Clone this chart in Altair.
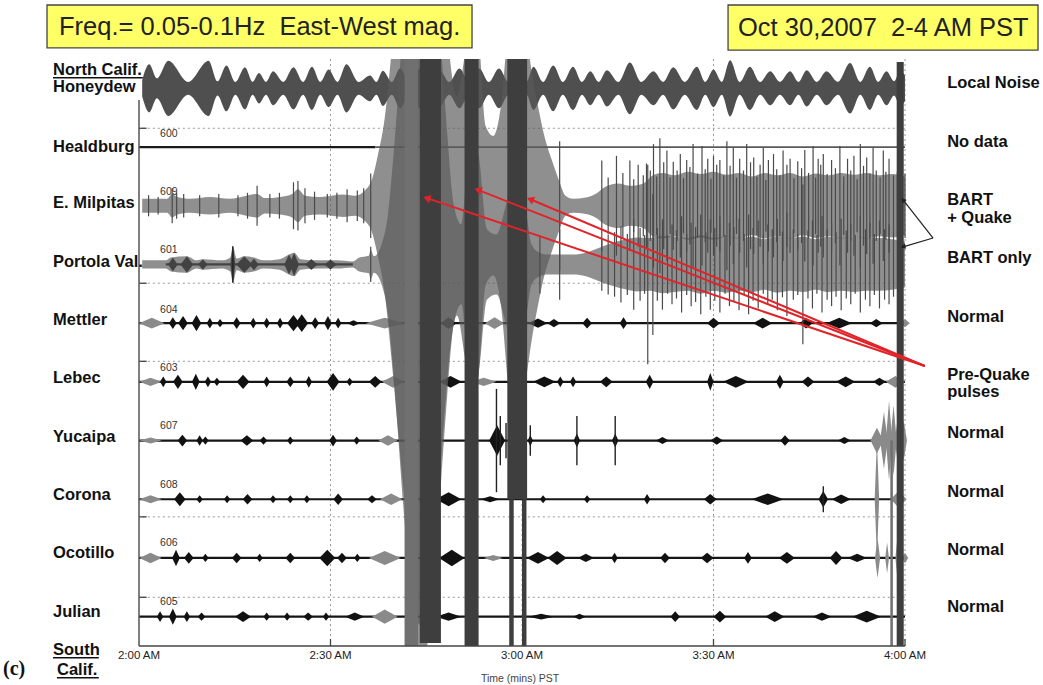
import altair as alt
import pandas as pd

# ------------------------------------------------------------------ data
TIME_TICKS = [0, 30, 60, 90, 120]                       # minutes after 2:00 AM
TIME_LABELS = ["2:00 AM", "2:30 AM", "3:00 AM", "3:30 AM", "4:00 AM"]

STATIONS = ["Honeydew", "Healdburg", "E. Milpitas", "Portola Val.", "Mettler",
            "Lebec", "Yucaipa", "Corona", "Ocotillo", "Julian"]
OFFSETS = [0, 100, 200, 300, 400, 500, 600, 700, 800, 900]   # trace baselines
LABEL_Y = [6, 108, 204, 304, 403, 502, 602, 701, 800, 901]
STATION_CODES = ["600", "609", "601", "604", "603", "607", "608", "606", "605"]
CODE_Y = [83, 182, 281, 383, 481, 581, 680, 780, 880]

STATUS_TEXT = ["Local Noise", "No data", "BART", "+ Quake", "BART only", "Normal",
               "Pre-Quake", "pulses", "Normal", "Normal", "Normal", "Normal"]
STATUS_Y = [-1, 100, 199, 229, 298, 398, 497, 526, 596, 696, 795, 892]

# Honeydew envelope (minutes, half-amplitude)
HD_T = [0.5, 1.6, 2.8, 4.6, 7.7, 10.9, 12.3, 13.7, 15.1, 16.6, 17.8, 18.8, 19.9, 21.0,
        22.6, 24.2, 25.7, 27.1, 28.4, 29.7, 31.1, 32.5, 34.4, 36.2, 37.2, 38.2, 39.6,
        40.9, 42.4, 44.0, 45.6, 47.1, 48.6, 50.2, 51.7, 53.3, 54.8, 56.4, 57.9, 59.5,
        60.7, 61.8, 63.3, 64.9, 66.4, 68.0, 69.4, 70.7, 72.0, 73.3, 75.1, 76.9, 78.7,
        80.6, 82.1, 83.7, 85.5, 87.4, 88.7, 90.0, 91.3, 92.6, 94.1, 95.7, 97.3, 98.9,
        100.4, 102.0, 103.3, 104.6, 106.2, 107.7, 109.5, 111.4, 113.0, 114.5, 115.8,
        117.1, 118.3, 119.2, 120.0]
HD_A = [14, 41, 17, 47, 11, 47, 12, 39, 11, 36, 11, 26, 11, 29, 11, 36, 11, 37, 11, 32,
        11, 41, 11, 22, 11, 30, 11, 34, 11, 34, 11, 31, 11, 34, 11, 34, 11, 34, 11, 32,
        11, 37, 11, 39, 11, 37, 11, 29, 11, 31, 11, 44, 11, 29, 11, 36, 11, 37, 11, 32,
        11, 48, 11, 37, 11, 29, 11, 29, 11, 31, 11, 29, 11, 43, 11, 37, 11, 29, 12, 30, 22]

# E. Milpitas envelope
MIL_T = [0.5, 4.4, 5.2, 6.0, 8.0, 11.1, 14.3, 18.5, 19.7, 22.1, 24.0, 24.9, 26.0, 28.4,
         32.0, 33.8, 35.4, 36.5, 37.4, 38.5, 39.5, 40.5, 41.7, 44.0, 46.0, 47.5, 48.5,
         49.8, 51.0, 52.0, 53.2, 54.3, 55.5, 56.7, 58.0, 59.3, 60.5, 61.5, 62.5, 63.5,
         64.7, 65.8, 66.8, 68.0, 70.0, 71.5, 73.0, 75.0, 77.0, 79.0, 80.5, 82.0, 84.0,
         86.0, 88.0, 90.0, 92.0, 94.0, 96.0, 98.0, 100.0, 102.0, 104.0, 106.0, 108.0,
         110.0, 112.0, 114.0, 116.0, 118.0, 120.0]
MIL_A = [12, 12, 20, 15, 12, 15, 12, 20, 13, 15, 20, 28, 17, 15, 19, 17, 26, 45, 85, 150,
         255, 374, 510, 714, 612, 408, 272, 187, 255, 340, 289, 136, 119, 170, 323, 374,
         306, 230, 170, 119, 77, 43, 17, 12, 14, 20, 32, 38, 34, 38,
         52, 56, 52, 58, 54, 58, 53, 56, 50, 56, 52, 56, 50, 55, 52, 56, 53, 56, 52, 54, 50]

# Portola Valley envelope
POR_T = [0.5, 4.2, 5.0, 7.5, 9.0, 10.0, 13.0, 14.3, 14.7, 15.3, 16.5, 18.0, 19.5, 22.0,
         23.5, 24.3, 25.3, 28.0, 31.0, 33.5, 34.5, 36.0, 36.3, 36.8, 38.0, 39.0, 40.0,
         41.5, 43.0, 44.5, 46.0, 47.3, 48.3, 49.3, 50.5, 52.0, 53.2, 54.5, 56.0, 57.5,
         59.0, 60.5, 61.5, 62.8, 64.0, 66.0, 68.0, 70.0, 72.0, 74.0, 76.0, 78.0, 80.0,
         82.0, 84.0, 86.0, 88.0, 90.0, 92.0, 94.0, 96.0, 98.0, 100.0, 102.0, 104.0,
         106.0, 108.0, 110.0, 112.0, 114.0, 116.0, 118.0, 120.0]
POR_A = [7, 7, 12, 14, 7, 9, 7, 12, 31, 10, 14, 12, 7, 9, 17, 20, 9, 7, 7, 5, 12, 15, 25,
         14, 34, 85, 204, 425, 595, 680, 561, 374, 221, 102, 68, 221, 187, 60, 51, 102,
         170, 102, 34, 20, 17, 17, 17, 20, 28, 36, 42, 46,
         45, 49, 47, 45, 50, 45, 48, 45, 47, 43, 48, 45, 47, 43, 47, 45, 47, 45, 45, 43, 39]

# vertical spikes (minute, half-amplitude)
MIL_SPK_T = [1.5, 3.0, 5.2, 5.9, 7.0, 9.5, 12.5, 15.5, 17.0, 18.5, 20.5, 22.0, 24.2, 24.9,
             26.0, 27.5, 29.5, 31.0, 32.6, 34.2, 35.2, 36.3,
             65.9, 72.5, 73.5, 74.8, 75.8, 76.9, 77.5, 78.2, 79.0, 79.5, 80.1, 80.6, 81.1,
             81.6, 82.2, 82.7, 83.2, 83.7, 84.3, 84.8, 85.3, 85.8, 86.3, 86.8, 87.5, 88.2,
             88.7, 89.1, 89.6, 90.0, 90.5, 91.0, 91.6, 92.1, 92.6, 93.1, 93.6, 94.1, 94.7,
             95.2, 95.8, 96.3, 96.8, 97.3, 97.8, 98.2, 98.6, 99.4, 99.9, 100.4, 100.9,
             101.5, 102.0, 102.6, 103.2, 103.8, 104.3, 104.9, 105.6, 106.0, 106.4, 106.8,
             107.2, 107.8, 108.5, 109.1, 109.8, 110.4, 111.0, 111.5, 112.0, 112.5, 113.0,
             113.5, 114.0, 114.5, 115.0, 115.5, 116.1, 116.6, 117.0, 117.5, 118.2, 118.8,
             119.5, 120.0]
MIL_SPK_A = [18, 15, 30, 22, 20, 18, 20, 18, 22, 34, 20, 22, 40, 42, 30, 24, 20, 22, 28,
             26, 30, 55,
             110, 77, 48, 85, 56, 77, 45, 70, 52, 72,
             60, 105, 50, 115, 74, 94, 48, 75, 60, 88,
             47, 78, 66, 105, 55, 102, 62, 80, 46, 85,
             70, 78, 52, 110, 68, 99, 48, 80, 60, 105,
             74, 82, 50, 70, 99, 44, 78, 88, 62, 52,
             94, 70, 80, 47, 76, 64, 95, 56, 102, 48,
             80, 70, 88, 54, 78, 64, 102, 50, 80, 60,
             85, 45, 105, 68, 82, 55, 99, 60, 48, 94,
             58, 80, 52, 58, 70, 55]
POR_SPK_T = [36.3, 62.8, 65.9, 72.5, 73.5, 74.5, 75.5, 76.5, 77.5, 78.5, 79.2, 79.7, 80.5,
             81.2, 82.0, 82.8, 83.5, 84.2, 85.0, 85.8, 86.5, 87.2, 88.0, 88.8, 89.5, 90.2,
             91.0, 91.8, 92.5, 93.2, 94.0, 94.8, 95.5, 96.2, 97.0, 97.8, 98.5, 99.2, 100.0,
             100.8, 101.5, 102.5, 103.2, 104.0, 104.8, 105.5, 106.2, 107.0, 107.8, 108.5,
             109.2, 110.0, 110.8, 111.5, 112.2, 113.0, 113.8, 114.5, 115.2, 116.0, 116.8,
             117.5, 118.2, 119.2]
POR_SPK_A = [30, 50, 60, 45, 51, 55, 65, 52, 77, 62, 50, 170, 120, 62, 77, 50, 68, 58, 82,
             52, 71, 64, 85, 55, 77, 62, 82, 50, 71, 64, 78, 52, 85, 62, 75, 50, 68, 60,
             78, 56, 88, 60, 52, 136, 58, 75, 50, 82, 60, 71, 55, 78, 58, 68, 50, 82, 60,
             71, 52, 75, 60, 68, 55, 52]

# bursts on the quiet stations: (minute, half-amplitude, duration in minutes)
POR_BLK = [(5.3, 12, 1.5), (7.5, 14, 2.0), (10.0, 9, 1.5), (14.7, 31, 0.8), (16.5, 14, 2.5),
           (18.0, 10, 1.5), (23.5, 17, 1.5), (24.3, 20, 1.5), (27.0, 9, 2.0), (30.0, 8, 2.0)]
MET_BLK = [(5.3, 10, 1.2), (6.9, 12, 1.5), (9.0, 14, 1.5), (11.1, 9, 1.0), (12.7, 7, 1.0),
           (15.3, 10, 1.2), (17.9, 9, 1.0), (20.0, 9, 1.0), (22.1, 9, 1.0), (24.2, 14, 2.0),
           (25.5, 15, 2.0), (27.6, 10, 1.2), (29.6, 12, 1.2), (31.2, 9, 1.0), (33.6, 5, 2.0),
           (48.5, 10, 2.5), (62.5, 8, 3.0), (65.0, 7, 2.0), (70.2, 9, 1.5), (75.9, 10, 1.2),
           (90.0, 9, 2.0), (97.7, 9, 3.0), (104.5, 9, 2.0), (109.7, 9, 4.0), (115.5, 7, 2.0)]
MET_GRY = [(2.0, 9, 4.0), (38.5, 9, 6.0), (55.7, 10, 3.0), (120.0, 7, 1.5)]
LEB_BLK = [(3.8, 9, 1.0), (6.1, 12, 1.5), (8.9, 14, 1.2), (10.8, 9, 1.0), (12.2, 7, 1.0),
           (16.3, 12, 2.0), (20.0, 9, 1.0), (23.7, 9, 1.2), (26.6, 10, 1.0), (30.4, 15, 2.0),
           (33.0, 7, 1.0), (37.0, 10, 2.0), (48.8, 10, 3.5), (63.5, 9, 3.5), (66.0, 9, 1.0),
           (68.0, 9, 1.0), (73.2, 9, 2.0), (80.0, 12, 1.2), (89.5, 15, 1.0), (93.5, 10, 4.0),
           (100.4, 12, 1.2), (104.8, 9, 2.0), (110.7, 9, 3.0), (116.0, 7, 2.0)]
LEB_GRY = [(1.8, 7, 3.5), (39.8, 10, 3.5), (54.0, 7, 4.0), (118.5, 10, 3.0)]
YUC_BLK = [(6.8, 10, 1.5), (9.5, 9, 1.0), (10.4, 7, 1.0), (16.9, 9, 2.0), (19.5, 7, 1.2),
           (23.7, 7, 1.0), (30.4, 10, 1.2), (34.1, 7, 1.0), (56.1, 26, 2.5), (61.3, 10, 0.8),
           (68.6, 12, 1.0), (74.6, 12, 1.0), (82.0, 6, 2.0), (90.5, 7, 2.0), (101.2, 9, 1.5),
           (110.5, 6, 2.0)]
YUC_GRY = [(1.8, 5, 3.5), (39.0, 9, 3.0), (115.6, 22, 2.0), (116.7, 48, 1.2), (117.5, 68, 1.0),
           (118.2, 60, 1.0), (119.0, 50, 1.2), (119.8, 34, 1.0)]
COR_BLK = [(6.4, 12, 1.8), (9.5, 7, 1.0), (13.8, 7, 1.0), (17.0, 9, 1.5), (21.0, 7, 1.0),
           (23.7, 7, 1.0), (26.3, 7, 1.0), (31.2, 10, 1.5), (36.5, 7, 1.5), (48.5, 12, 4.0),
           (55.0, 5, 3.0), (63.3, 7, 1.0), (70.2, 7, 1.0), (79.6, 9, 1.0), (89.5, 9, 2.0),
           (98.5, 10, 5.0), (107.2, 14, 1.5), (110.0, 8, 3.0)]
COR_GRY = [(1.8, 7, 3.5), (39.5, 10, 3.5), (115.6, 100, 0.7), (119.0, 14, 2.5)]
OCO_BLK = [(5.8, 14, 1.2), (7.8, 10, 1.5), (10.4, 7, 1.0), (15.3, 9, 1.5), (18.9, 7, 1.0),
           (23.7, 9, 1.5), (29.5, 14, 2.5), (31.8, 9, 1.5), (34.2, 7, 1.0), (49.0, 14, 4.0),
           (62.5, 10, 3.5), (65.5, 12, 3.0), (70.0, 7, 2.5), (74.5, 9, 1.0), (82.4, 9, 1.5),
           (89.0, 9, 2.0), (95.4, 10, 1.2), (101.5, 10, 2.5), (109.2, 12, 2.0), (112.5, 7, 3.0)]
OCO_GRY = [(1.8, 9, 3.5), (38.5, 12, 5.0), (55.5, 5, 3.0), (115.7, 34, 0.8), (117.2, 26, 0.6),
           (118.8, 34, 0.6), (120.0, 9, 1.0)]
JUL_BLK = [(3.3, 9, 1.0), (5.3, 14, 1.2), (7.5, 9, 1.0), (9.8, 7, 1.2), (16.3, 9, 2.5),
           (20.0, 7, 1.0), (23.2, 7, 1.0), (26.5, 7, 1.5), (29.3, 7, 1.0), (33.8, 7, 3.0),
           (48.5, 7, 4.0), (63.0, 5, 4.0), (69.0, 5, 2.0), (84.0, 9, 1.5), (91.0, 10, 2.0),
           (99.6, 9, 3.0), (107.0, 7, 3.0), (114.0, 10, 4.5)]
JUL_GRY = [(38.5, 12, 4.0)]
BLACK_SPIKES = [(6, 56.0, 88), (6, 56.6, 42), (6, 57.5, 30), (6, 61.3, 26), (6, 68.6, 42),
                (6, 74.6, 42), (7, 107.2, 22), (3, 14.7, 31)]

# saturated quake columns: start, end (minutes), top, bottom, shade
COL_T0 = [41.6, 44.0, 51.0, 57.7, 58.0, 60.0, 118.7, 117.7]
COL_T1 = [43.7, 47.3, 53.2, 60.8, 58.7, 60.7, 119.8, 118.1]
COL_Y0 = [-50, -50, -50, -50, 700, 700, -45, 600]
COL_Y1 = [950, 945, 950, 700, 952, 952, 950, 950]
COL_SHADE = ["mid", "dark", "dark", "dark", "dark", "dark", "dark", "mid"]

# annotation geometry
RED_HEAD_T = [45.1, 53.1, 61.3]
RED_HEAD_Y = [187, 173, 189]
RED_TAIL_T, RED_TAIL_Y = 123.1, 473
BLK_HEAD_T = [119.7, 119.7]
BLK_HEAD_Y = [190, 270]
BLK_TAIL_T, BLK_TAIL_Y = 124.4, 255
HGRID_Y = [68, 332, 465, 730, 867]
VGRID_T = [30, 60, 90, 120]

# ------------------------------------------------------------------ frames
XS = alt.Scale(domain=[0, 120])
YS = alt.Scale(domain=[-50, 950], reverse=True)


def X(f):
    return alt.X(f, type="quantitative", scale=XS, axis=None)


def Y(f):
    return alt.Y(f, type="quantitative", scale=YS, axis=None)


def envelope(name, off, ts, amps):
    return pd.DataFrame({"st": name, "t": ts,
                         "lo": [off - a for a in amps], "hi": [off + a for a in amps]})


def bursts(name, off, items, tone):
    rows = []
    for i, (t, a, w) in enumerate(items):
        k = f"{name}-{tone}-{i}"
        rows.append(dict(key=k, t=t - w / 2, lo=off, hi=off))
        rows.append(dict(key=k, t=t, lo=off - a, hi=off + a))
        rows.append(dict(key=k, t=t + w / 2, lo=off, hi=off))
    return rows


hd_df = envelope("Honeydew", OFFSETS[0], HD_T, HD_A)
big_df = pd.concat([envelope("E. Milpitas", OFFSETS[2], MIL_T, MIL_A),
                    envelope("Portola Val.", OFFSETS[3], POR_T, POR_A)])

blk_rows, gry_rows = [], []
blk_rows += bursts("por", OFFSETS[3], POR_BLK, "b")
for nm, idx, b, g in [("met", 4, MET_BLK, MET_GRY), ("leb", 5, LEB_BLK, LEB_GRY),
                      ("yuc", 6, YUC_BLK, YUC_GRY), ("cor", 7, COR_BLK, COR_GRY),
                      ("oco", 8, OCO_BLK, OCO_GRY), ("jul", 9, JUL_BLK, JUL_GRY)]:
    blk_rows += bursts(nm, OFFSETS[idx], b, "b")
    gry_rows += bursts(nm, OFFSETS[idx], g, "g")
blk_df = pd.DataFrame(blk_rows)
gry_df = pd.DataFrame(gry_rows)

spk_df = pd.DataFrame(
    [dict(t=t, lo=OFFSETS[2] - a, hi=OFFSETS[2] + a) for t, a in zip(MIL_SPK_T, MIL_SPK_A)] +
    [dict(t=t, lo=OFFSETS[3] - a, hi=OFFSETS[3] + a) for t, a in zip(POR_SPK_T, POR_SPK_A)])
bspk_df = pd.DataFrame([dict(t=t, lo=OFFSETS[i] - a, hi=OFFSETS[i] + a)
                        for i, t, a in BLACK_SPIKES])

base_df = pd.DataFrame({"t0": [0, 0, 0, 0, 0, 0, 4.2],
                        "t1": [120, 120, 120, 120, 120, 120, 33.5],
                        "y": [OFFSETS[i] for i in (4, 5, 6, 7, 8, 9, 3)]})
heal_a = pd.DataFrame({"t0": [0], "t1": [37], "y": [OFFSETS[1]]})
heal_b = pd.DataFrame({"t0": [37], "t1": [120], "y": [OFFSETS[1]]})

col_df = pd.DataFrame({"t0": COL_T0, "t1": COL_T1, "y0": COL_Y0, "y1": COL_Y1,
                       "shade": COL_SHADE})
col_mid = col_df[col_df["shade"] == "mid"]
col_dark = col_df[col_df["shade"] == "dark"]
hgrid_df = pd.DataFrame({"y": HGRID_Y, "t0": 0.6, "t1": 120, "k0": 0, "k1": 1.2})
vgrid_df = pd.DataFrame({"t": VGRID_T, "y0": -50, "y1": 950})
tick_df = pd.DataFrame({"t": [30, 90, 120], "y0": 938, "y1": 950})

red_df = pd.DataFrame({"t": RED_HEAD_T, "y": RED_HEAD_Y, "t2": RED_TAIL_T, "y2": RED_TAIL_Y,
                       "ang": [18.6, 21.5, 22.9]})
blk_arrow_df = pd.DataFrame({"t": BLK_HEAD_T, "y": BLK_HEAD_Y, "t2": BLK_TAIL_T,
                             "y2": BLK_TAIL_Y, "ang": [51.7, 343.3]})

left_df = pd.DataFrame({"t": -13.47, "y": LABEL_Y, "text": STATIONS})
extra_left_df = pd.DataFrame({"t": [-13.47, -13.47, -12.85], "y": [-23, 965, 999],
                              "text": ["North Calif.", "South", "Calif."]})
underline_df = pd.DataFrame({"t0": [-13.47, -13.47, -12.85], "t1": [0.6, -6.3, -6.3],
                             "y": [-18, 970, 1004]})
code_df = pd.DataFrame({"t": 3.3, "y": CODE_Y, "text": STATION_CODES})
status_df = pd.DataFrame({"t": 126.6, "y": STATUS_Y, "text": STATUS_TEXT})
tlab_df = pd.DataFrame({"t": TIME_TICKS, "y": 972, "text": TIME_LABELS})
title_df = pd.DataFrame({"t": [59.7], "y": [1011], "text": ["Time (mins) PST"]})
c_df = pd.DataFrame({"t": [-21.3], "y": [1000], "text": ["(c)"]})
box_df = pd.DataFrame({"t0": [-14.41, 92.28], "t1": [52.17, 140.84],
                       "y0": [-142, -142], "y1": [-69, -65],
                       "tc": [18.9, 116.6], "yc": [-104, -103],
                       "text": ["Freq.= 0.05-0.1Hz\u00a0 East-West mag.",
                                "Oct 30,2007\u00a0 2-4 AM PST"]})

FONT = "Liberation Sans"

# ------------------------------------------------------------------ layers
hgrid = alt.Chart(hgrid_df).mark_rule(color="#9a9a9a", strokeDash=[2, 3], strokeWidth=1).encode(
    x=X("t0"), x2="t1", y=Y("y"))
hticks = alt.Chart(hgrid_df).mark_rule(color="#444", strokeWidth=1.3).encode(
    x=X("k0"), x2="k1", y=Y("y"))
vgrid = alt.Chart(vgrid_df).mark_rule(color="#9a9a9a", strokeDash=[2, 3], strokeWidth=1).encode(
    x=X("t"), y=Y("y0"), y2="y1")

honeydew = alt.Chart(hd_df).mark_area(color="#4f4f4f", interpolate="monotone", clip=True).encode(
    x=X("t"), y=Y("lo"), y2="hi")

heal1 = alt.Chart(heal_a).mark_rule(strokeWidth=2.2, color="#1a1a1a").encode(
    x=X("t0"), x2="t1", y=Y("y"))
heal2 = alt.Chart(heal_b).mark_rule(strokeWidth=1.8, color="#5a5a5a").encode(
    x=X("t0"), x2="t1", y=Y("y"))

bases = alt.Chart(base_df).mark_rule(color="#151515", strokeWidth=2.2).encode(
    x=X("t0"), x2="t1", y=Y("y"))

gry = alt.Chart(gry_df).mark_area(color="#8a8a8a", interpolate="linear").encode(
    x=X("t"), y=Y("lo"), y2="hi", detail="key:N")
blk = alt.Chart(blk_df).mark_area(color="#111", interpolate="linear").encode(
    x=X("t"), y=Y("lo"), y2="hi", detail="key:N")

big = alt.Chart(big_df).mark_area(color="#5a5a5a", opacity=0.68, interpolate="monotone",
                                  clip=True).encode(
    x=X("t"), y=Y("lo"), y2="hi", detail="st:N")

spikes = alt.Chart(spk_df).mark_rule(color="#4a4a4a", strokeWidth=1.2).encode(
    x=X("t"), y=Y("lo"), y2="hi")
bspikes = alt.Chart(bspk_df).mark_rule(color="#222", strokeWidth=1.4).encode(
    x=X("t"), y=Y("lo"), y2="hi")

cols_m = alt.Chart(col_mid).mark_rect(clip=True, color="#707070").encode(
    x=X("t0"), x2="t1", y=Y("y0"), y2="y1")
cols_d = alt.Chart(col_dark).mark_rect(clip=True, color="#3e3e3e").encode(
    x=X("t0"), x2="t1", y=Y("y0"), y2="y1")

left_axis = alt.Chart(pd.DataFrame({"t": [0], "y0": [20], "y1": [950]})).mark_rule(
    color="#555", strokeWidth=1.5).encode(x=X("t"), y=Y("y0"), y2="y1")
bottom_axis = alt.Chart(pd.DataFrame({"t0": [0], "t1": [120], "y": [950]})).mark_rule(
    color="#444", strokeWidth=1.5).encode(x=X("t0"), x2="t1", y=Y("y"))
bticks = alt.Chart(tick_df).mark_rule(color="#444", strokeWidth=1.3).encode(
    x=X("t"), y=Y("y0"), y2="y1")

red_lines = alt.Chart(red_df).mark_rule(color="#e0242a", strokeWidth=2).encode(
    x=X("t"), y=Y("y"), x2="t2", y2="y2")
red_heads = alt.Chart(red_df).mark_point(shape="triangle-left", filled=True, size=70,
                                         color="#e0242a", opacity=1).encode(
    x=X("t"), y=Y("y"), angle=alt.Angle("ang:Q", scale=None))
blk_lines = alt.Chart(blk_arrow_df).mark_rule(color="#222", strokeWidth=1.2).encode(
    x=X("t"), y=Y("y"), x2="t2", y2="y2")
blk_heads = alt.Chart(blk_arrow_df).mark_point(shape="triangle-left", filled=True, size=30,
                                               color="#222", opacity=1).encode(
    x=X("t"), y=Y("y"), angle=alt.Angle("ang:Q", scale=None))

boxes = alt.Chart(box_df).mark_rect(fill="#ffff66", stroke="#444", strokeWidth=1.3).encode(
    x=X("t0"), x2="t1", y=Y("y0"), y2="y1")
box_text = alt.Chart(box_df).mark_text(font=FONT, fontSize=25.5, color="#222", align="center",
                                       baseline="middle").encode(
    x=X("tc"), y=Y("yc"), text="text:N")

left_text = alt.Chart(left_df).mark_text(font=FONT, fontSize=16.5, fontWeight="bold",
                                         color="#111", align="left",
                                         baseline="alphabetic").encode(
    x=X("t"), y=Y("y"), text="text:N")
extra_left = alt.Chart(extra_left_df).mark_text(font=FONT, fontSize=16.5, fontWeight="bold",
                                                color="#111", align="left",
                                                baseline="alphabetic").encode(
    x=X("t"), y=Y("y"), text="text:N")
underlines = alt.Chart(underline_df).mark_rule(color="#111", strokeWidth=1.6).encode(
    x=X("t0"), x2="t1", y=Y("y"))
codes = alt.Chart(code_df).mark_text(font=FONT, fontSize=10.5, color="#333", align="left",
                                     baseline="alphabetic").encode(
    x=X("t"), y=Y("y"), text="text:N")
status = alt.Chart(status_df).mark_text(font=FONT, fontSize=16.5, fontWeight="bold",
                                        color="#111", align="left",
                                        baseline="alphabetic").encode(
    x=X("t"), y=Y("y"), text="text:N")
tlabels = alt.Chart(tlab_df).mark_text(font=FONT, fontSize=11.5, color="#222",
                                       align="center", baseline="alphabetic").encode(
    x=X("t"), y=Y("y"), text="text:N")
ttitle = alt.Chart(title_df).mark_text(font=FONT, fontSize=10.5, color="#444",
                                       align="center", baseline="alphabetic").encode(
    x=X("t"), y=Y("y"), text="text:N")
clabel = alt.Chart(c_df).mark_text(font="Liberation Serif", fontSize=20, fontWeight="bold",
                                   color="#111", align="left", baseline="alphabetic").encode(
    x=X("t"), y=Y("y"), text="text:N")

chart = alt.layer(
    hgrid, hticks, vgrid, honeydew, heal1, heal2, bases, gry, blk, big, spikes, bspikes,
    cols_m, cols_d, left_axis, bottom_axis, bticks, red_lines, red_heads, blk_lines,
    blk_heads, boxes, box_text, left_text, extra_left, underlines, codes, status, tlabels,
    ttitle, clabel
).properties(
    width=766, height=587,
    padding={"left": 139, "top": 59, "right": 138, "bottom": 39},
    autosize=alt.AutoSizeParams(type="none"),
    background="white",
).configure_view(stroke=None)

chart.save("out.html", embed_options={"renderer": "svg", "actions": False})
